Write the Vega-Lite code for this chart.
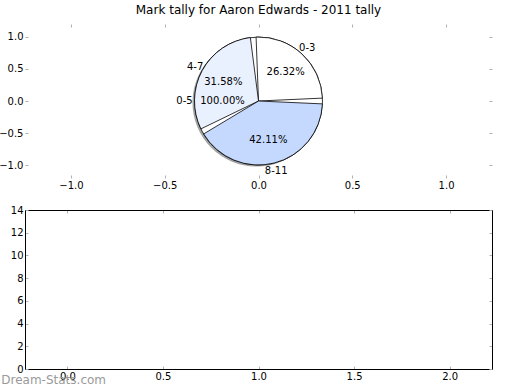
{
  "$schema": "https://vega.github.io/schema/vega-lite/v6.json",
  "background": "white",
  "padding": {"left": -2, "top": 3, "right": 0, "bottom": 0},
  "spacing": 15,
  "config": {
    "font": "DejaVu Sans",
    "view": {"stroke": null},
    "axis": {
      "grid": false,
      "labelFont": "DejaVu Sans",
      "labelFontSize": 10,
      "labelColor": "#000000",
      "tickColor": "#b0b0b0",
      "tickSize": -3,
      "labelPadding": 5,
      "domainColor": "#000000"
    }
  },
  "vconcat": [
    {
      "width": 467,
      "height": 154,
      "title": {
        "text": "Mark tally for Aaron Edwards - 2011 tally",
        "fontSize": 12,
        "fontWeight": "normal",
        "font": "DejaVu Sans",
        "color": "#000000",
        "anchor": "middle",
        "offset": 7
      },
      "layer": [
        {
          "data": {"values": [{"range": "0-5", "count": 1, "pct": "100.00%"}]},
          "encoding": {
            "theta": {"field": "count", "type": "quantitative", "stack": true, "scale": {"range": [1.5708, -4.7124]}},
            "x": {"datum": 0, "type": "quantitative", "scale": {"domain": [-1.245, 1.245], "nice": false, "zero": false},
                  "axis": {"orient": "bottom", "title": null, "domain": false, "values": [-1, -0.5, 0, 0.5, 1], "format": ".1f"}},
            "y": {"datum": 0, "type": "quantitative", "scale": {"domain": [-1.2, 1.2], "nice": false, "zero": false},
                  "axis": {"orient": "left", "title": null, "domain": false, "values": [-1, -0.5, 0, 0.5, 1], "format": ".1f"}}
          },
          "layer": [
            {"mark": {"type": "arc", "outerRadius": 64, "fill": "#555555", "opacity": 0.55, "xOffset": -2, "yOffset": 1.5}},
            {"mark": {"type": "arc", "outerRadius": 64, "fill": "#ffffff", "stroke": "#000000", "strokeWidth": 0.8}}
          ]
        },
        {
          "data": {"values": [
            {"range": "0-3", "count": 5, "pct": "26.32%"},
            {"range": "4-7", "count": 6, "pct": "31.58%"},
            {"range": "8-11", "count": 8, "pct": "42.11%"}
          ]},
          "encoding": {
            "theta": {"field": "count", "type": "quantitative", "stack": true, "scale": {"range": [1.5708, -4.7124]}},
            "order": {"field": "range", "type": "ordinal", "sort": "ascending"},
            "x": {"datum": 0, "type": "quantitative",
                  "axis": {"orient": "top", "title": null, "domain": false, "labels": false, "values": [-1, -0.5, 0, 0.5, 1]}},
            "y": {"datum": 0, "type": "quantitative",
                  "axis": {"orient": "right", "title": null, "domain": false, "labels": false, "values": [-1, -0.5, 0, 0.5, 1]}}
          },
          "layer": [
            {"mark": {"type": "arc", "outerRadius": 64, "padAngle": 0.09, "stroke": "#000000", "strokeWidth": 0.8},
             "encoding": {"color": {"field": "range", "type": "nominal", "scale": {"domain": ["0-3", "4-7", "8-11"], "range": ["#ffffff", "#e9f0fe", "#c5d9fe"]}, "legend": null}}},
            {"mark": {"type": "text", "radius": 72, "fontSize": 10, "font": "DejaVu Sans", "color": "#000000"}, "encoding": {"text": {"field": "range"}}},
            {"mark": {"type": "text", "radius": 40, "fontSize": 10, "font": "DejaVu Sans", "color": "#000000"}, "encoding": {"text": {"field": "pct"}}}
          ]
        },
        {
          "data": {"values": [{"range": "0-5", "count": 1, "pct": "100.00%"}]},
          "encoding": {
            "theta": {"field": "count", "type": "quantitative", "stack": true, "scale": {"range": [1.5708, -4.7124]}},
            "x": {"datum": 0, "type": "quantitative", "axis": null},
            "y": {"datum": 0, "type": "quantitative", "axis": null}
          },
          "layer": [
            {"mark": {"type": "text", "radius": 74, "fontSize": 10, "font": "DejaVu Sans", "color": "#000000"}, "encoding": {"text": {"field": "range"}}},
            {"mark": {"type": "text", "radius": 36, "fontSize": 10, "font": "DejaVu Sans", "color": "#000000"}, "encoding": {"text": {"field": "pct"}}}
          ]
        }
      ],
      "resolve": {"scale": {"theta": "independent"}, "axis": {"x": "independent", "y": "independent"}}
    },
    {
      "width": 467,
      "height": 159,
      "title": {
        "text": "Dream-Stats.com",
        "orient": "bottom",
        "anchor": "start",
        "frame": "bounds",
        "fontSize": 12,
        "fontWeight": "normal",
        "font": "DejaVu Sans",
        "color": "#9a9a9a",
        "offset": -6,
        "dx": -9
      },
      "data": {"values": [{}]},
      "layer": [
        {
          "mark": {"type": "point", "opacity": 0},
          "encoding": {
            "x": {"datum": 0, "type": "quantitative", "scale": {"domain": [-0.222, 2.222], "nice": false, "zero": false},
                  "axis": {"orient": "bottom", "title": null, "values": [0, 0.5, 1, 1.5, 2], "format": ".1f"}},
            "y": {"datum": 0, "type": "quantitative", "scale": {"domain": [0, 14], "nice": false},
                  "axis": {"orient": "left", "title": null, "values": [0, 2, 4, 6, 8, 10, 12, 14], "format": "d"}}
          }
        },
        {
          "mark": {"type": "point", "opacity": 0},
          "encoding": {
            "x": {"datum": 0, "type": "quantitative",
                  "axis": {"orient": "top", "title": null, "labels": false, "values": [0, 0.5, 1, 1.5, 2]}},
            "y": {"datum": 0, "type": "quantitative",
                  "axis": {"orient": "right", "title": null, "labels": false, "values": [0, 2, 4, 6, 8, 10, 12, 14]}}
          }
        }
      ],
      "resolve": {"axis": {"x": "independent", "y": "independent"}}
    }
  ]
}
